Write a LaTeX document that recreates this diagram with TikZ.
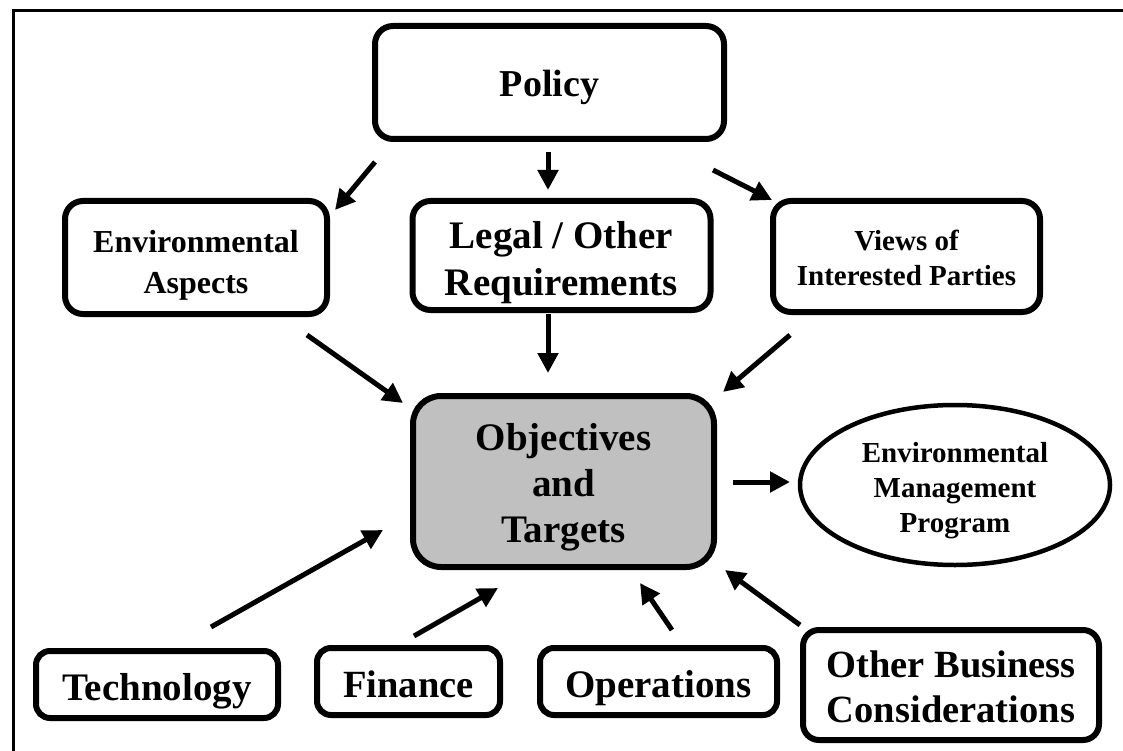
\documentclass[tikz,border=0pt]{standalone}
\usepackage{fontspec}
\setmainfont{Liberation Serif}
\usetikzlibrary{arrows.meta,shapes.geometric}
\definecolor{objgray}{RGB}{192,192,192}
\tikzset{
  box/.style={draw=black, line width=6pt, rounded corners=18pt, align=center,
    inner sep=0pt, text depth=0pt},
  arr/.style={line width=5pt, -{Triangle[length=20pt,width=20pt]}},
  frameline/.style={line width=3pt},
}
\begin{document}
\begin{tikzpicture}[x=1pt,y=-1pt]
\useasboundingbox (0,0) rectangle (1123,751);
% frame
\coordinate (ftr) at (1123,11);
\coordinate (ftl) at (11.5,11);
\coordinate (fbl) at (13,751);
\coordinate (ftl2) at (13,9.5);
\draw[frameline] (ftl) -- (ftr);
\draw[frameline] (ftl2) -- (fbl);

% nodes
\node[box, minimum width=349pt, minimum height=113pt, text height=29pt,
  font=\bfseries\fontsize{38}{46}\selectfont] (policy) at (549.5,82.5) {Policy};
\node[box, minimum width=298pt, minimum height=109pt, text height=79pt,
  font=\bfseries\fontsize{39}{47}\selectfont] (legal) at (561.5,255.5) {Legal / Other\\Requirements};
\node[box, minimum width=262pt, minimum height=113pt, text height=71pt,
  font=\bfseries\fontsize{32}{41}\selectfont] (env) at (196,257.5) {Environmental\\Aspects};
\node[box, minimum width=267pt, minimum height=111pt, text height=57pt,
  font=\bfseries\fontsize{29}{35}\selectfont] (views) at (906.5,256.5) {Views of\\Interested Parties};
\node[box, fill=objgray, rounded corners=28pt, minimum width=301pt, minimum height=171pt,
  text height=121pt,
  font=\bfseries\fontsize{39}{46}\selectfont] (obj) at (563.5,481.5) {Objectives\\and\\Targets};
\node[draw=black, line width=4.5pt, ellipse, minimum width=310pt, minimum height=160pt,
  inner sep=0pt, align=center, text depth=0pt, text height=94pt,
  font=\bfseries\fontsize{29}{35}\selectfont] (emp) at (955,485)
  {Environmental\\Management\\Program};
\node[box, rounded corners=14pt, minimum width=242pt, minimum height=67pt, text height=31pt,
  font=\bfseries\fontsize{39}{46}\selectfont] (tech) at (157,684.5) {Technology};
\node[box, rounded corners=14pt, minimum width=183pt, minimum height=67pt, text height=31pt,
  font=\bfseries\fontsize{38.5}{46}\selectfont] (fin) at (408.5,681.5) {Finance};
\node[box, rounded corners=14pt, minimum width=237pt, minimum height=67pt, text height=31pt,
  font=\bfseries\fontsize{39}{46}\selectfont] (ops) at (658.5,681.5) {Operations};
\node[box, rounded corners=16pt, minimum width=296pt, minimum height=110pt, text height=74pt,
  font=\bfseries\fontsize{38.5}{45}\selectfont] (other) at (951,685) {Other Business\\Considerations};

% arrow end points
\coordinate (a1s) at (375,162);  \coordinate (a1e) at (335,210);
\coordinate (a2s) at (548,152);  \coordinate (a2e) at (548,190);
\coordinate (a3s) at (713,170);  \coordinate (a3e) at (772,200);
\coordinate (a4s) at (307,335);  \coordinate (a4e) at (403,403);
\coordinate (a5s) at (548,314);  \coordinate (a5e) at (548,373);
\coordinate (a6s) at (790,335);  \coordinate (a6e) at (723,392);
\coordinate (a7s) at (733,482);  \coordinate (a7e) at (790,482);
\coordinate (a8s) at (211,627);  \coordinate (a8e) at (383,530);
\coordinate (a9s) at (414,636);  \coordinate (a9e) at (498,588);
\coordinate (a10s) at (672,630); \coordinate (a10e) at (640,583);
\coordinate (a11s) at (800,625); \coordinate (a11e) at (725,570);

\draw[arr] (a1s) -- (a1e);
\draw[arr] (a2s) -- (a2e);
\draw[arr] (a3s) -- (a3e);
\draw[arr] (a4s) -- (a4e);
\draw[arr] (a5s) -- (a5e);
\draw[arr] (a6s) -- (a6e);
\draw[arr] (a7s) -- (a7e);
\draw[arr] (a8s) -- (a8e);
\draw[arr] (a9s) -- (a9e);
\draw[arr] (a10s) -- (a10e);
\draw[arr] (a11s) -- (a11e);
\end{tikzpicture}
\end{document}
